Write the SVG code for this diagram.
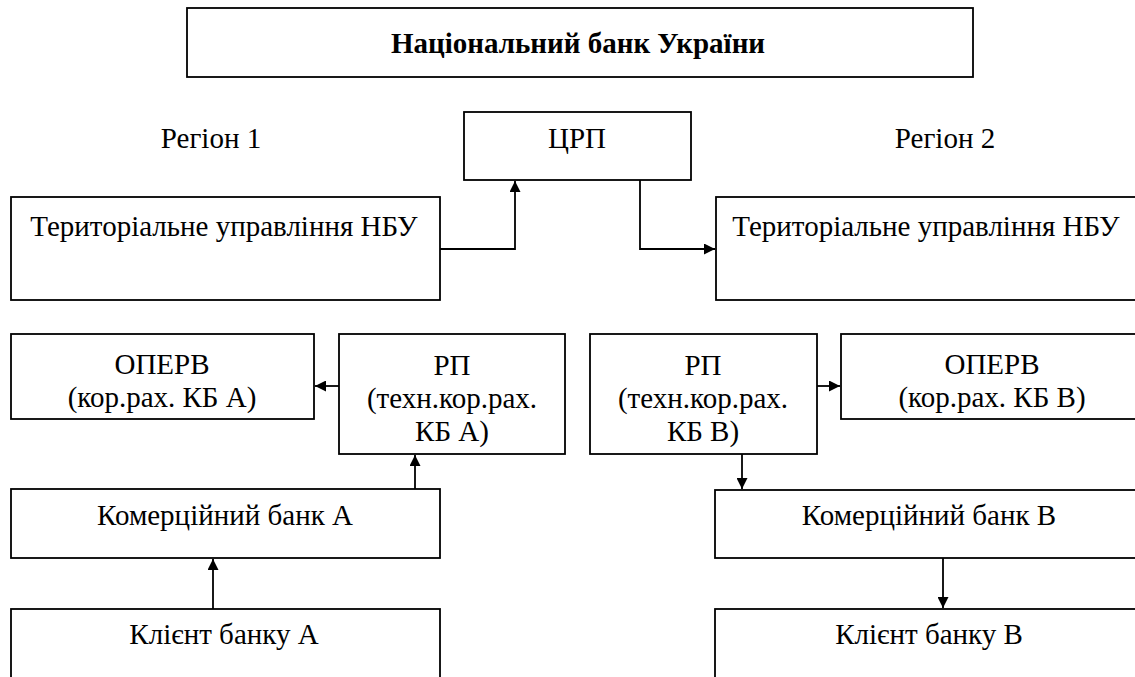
<svg xmlns="http://www.w3.org/2000/svg" width="1135" height="677" viewBox="0 0 1135 677">
<style>
.box{fill:#fff;stroke:#000;stroke-width:1.8}
.t{font-family:"Liberation Serif","Times New Roman",serif;font-size:29px;fill:#000;text-anchor:middle}
.b{font-weight:bold}
.c{fill:none;stroke:#000;stroke-width:1.8}
</style>
<defs>
<marker id="ah" viewBox="0 0 10 10" refX="10" refY="5" markerWidth="12" markerHeight="11" markerUnits="userSpaceOnUse" orient="auto">
<path d="M0,0 L10,5 L0,10 Z" fill="#000"/>
</marker>
</defs>
<rect width="1135" height="677" fill="#fff"/>
<g id="nbu"><rect class="box" x="187" y="8" width="786" height="69"/><text class="t b" x="578" y="53">Національний банк України</text></g>
<g id="region1"><text class="t" x="211" y="148">Регіон 1</text></g>
<g id="region2"><text class="t" x="945" y="148">Регіон 2</text></g>
<g id="crp"><rect class="box" x="464" y="112" width="227" height="68"/><text class="t" x="577" y="148">ЦРП</text></g>
<g id="tu1"><rect class="box" x="11" y="197" width="429" height="103"/><text class="t" x="224" y="236">Територіальне управління НБУ</text></g>
<g id="tu2"><rect class="box" x="716" y="197" width="424" height="103"/><text class="t" x="926" y="236">Територіальне управління НБУ</text></g>
<g id="operv-a"><rect class="box" x="11" y="334" width="303" height="85"/><text class="t" x="162" y="374">ОПЕРВ</text><text class="t" x="162" y="407">(кор.рах. КБ А)</text></g>
<g id="rp-a"><rect class="box" x="339" y="334" width="226" height="120"/><text class="t" x="452" y="375">РП</text><text class="t" x="452" y="408">(техн.кор.рах.</text><text class="t" x="452" y="441">КБ А)</text></g>
<g id="kb-a"><rect class="box" x="11" y="489" width="429" height="69"/><text class="t" x="225" y="525">Комерційний банк А</text></g>
<g id="client-a"><rect class="box" x="11" y="609" width="429" height="80"/><text class="t" x="224" y="644">Клієнт банку А</text></g>
<g id="rp-b"><rect class="box" x="590" y="334" width="227" height="120"/><text class="t" x="703" y="375">РП</text><text class="t" x="703" y="408">(техн.кор.рах.</text><text class="t" x="703" y="441">КБ В)</text></g>
<g id="operv-b"><rect class="box" x="841" y="334" width="302" height="85"/><text class="t" x="992" y="374">ОПЕРВ</text><text class="t" x="992" y="407">(кор.рах. КБ В)</text></g>
<g id="kb-b"><rect class="box" x="715" y="490" width="428" height="68"/><text class="t" x="929" y="525">Комерційний банк В</text></g>
<g id="client-b"><rect class="box" x="715" y="609" width="428" height="80"/><text class="t" x="929" y="644">Клієнт банку В</text></g>
<g id="connectors">
<path class="c" d="M440,249 H515 V181" marker-end="url(#ah)"/>
<path class="c" d="M640,180 V249 H715" marker-end="url(#ah)"/>
<path class="c" d="M339,386 H315" marker-end="url(#ah)"/>
<path class="c" d="M415,489 V455" marker-end="url(#ah)"/>
<path class="c" d="M213,609 V559" marker-end="url(#ah)"/>
<path class="c" d="M817,386 H840" marker-end="url(#ah)"/>
<path class="c" d="M742,454 V489" marker-end="url(#ah)"/>
<path class="c" d="M943,558 V608" marker-end="url(#ah)"/>
</g>
</svg>
